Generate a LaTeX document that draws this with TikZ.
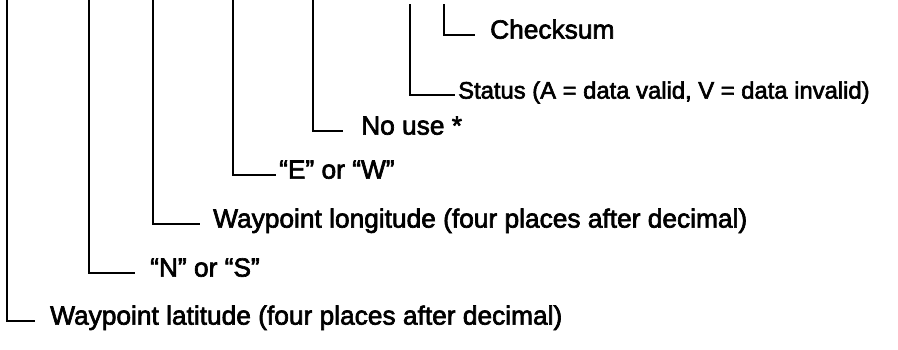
\documentclass[tikz,border=0pt]{standalone}
\usepackage{fontspec}
\setmainfont{Liberation Sans}
\newfontfamily\heavyfont{Liberation Sans}[FakeBold=2.5]
\begin{document}
\begin{tikzpicture}[x=1pt, y=-1pt,
    every node/.style={font=\heavyfont\fontsize{26.3}{30}\selectfont, anchor=west, inner sep=0pt,
        text height=0.72em, text depth=0pt},
    lead/.style={line width=2.8pt, shorten >=#1}]
    \useasboundingbox (0,0) rectangle (898,349);
    \coordinate (tlat) at (7,0);
    \coordinate (tns) at (89,0);
    \coordinate (tlon) at (153,0);
    \coordinate (tew) at (233,0);
    \coordinate (tnouse) at (313,0);
    \coordinate (tstat) at (410,4);
    \coordinate (tcks) at (444,4);
    \node (cks) at (490,35) {Checksum};
    \node[font=\heavyfont\fontsize{23.8}{28}\selectfont] (stat) at (458,95)
        {Status (A = data valid, V = data invalid)};
    \node (nouse) at (361,131) {No use *};
    \node (ew) at (279,175) {“E” or “W”};
    \node (lon) at (213,224) {Waypoint longitude (four places after decimal)};
    \node (ns) at (150,273) {“N” or “S”};
    \node (lat) at (50,321) {Waypoint latitude (four places after decimal)};
    \draw[lead=15pt] (tcks) |- (cks.west);
    \draw[lead=3pt] (tstat) |- (stat.west);
    \draw[lead=18pt] (tnouse) |- (nouse.west);
    \draw[lead=3pt] (tew) |- (ew.west);
    \draw[lead=13pt] (tlon) |- (lon.west);
    \draw[lead=15pt] (tns) |- (ns.west);
    \draw[lead=15pt] (tlat) |- (lat.west);
\end{tikzpicture}
\end{document}
